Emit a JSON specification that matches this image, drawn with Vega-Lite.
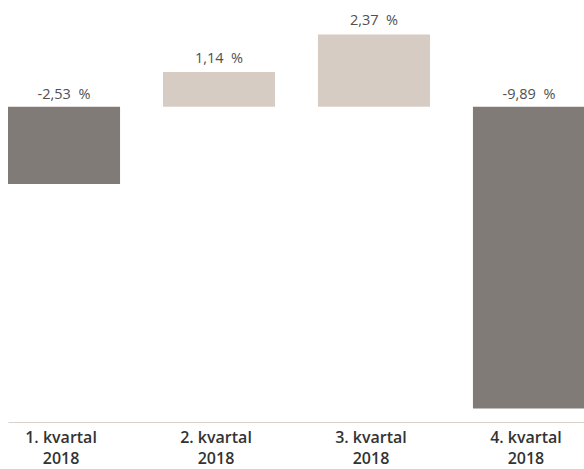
{
  "$schema": "https://vega.github.io/schema/vega-lite/v6.json",
  "width": 577,
  "height": 422,
  "autosize": {"type": "none"},
  "padding": {"left": 8, "top": 0, "right": 0, "bottom": 47},
  "background": "white",
  "config": {"view": {"stroke": null}},
  "data": {
    "values": [
      {"quarter": "1. kvartal|2018", "value": -2.53, "label": "-2,53\u00a0\u00a0%"},
      {"quarter": "2. kvartal|2018", "value": 1.14, "label": "1,14\u00a0\u00a0%"},
      {"quarter": "3. kvartal|2018", "value": 2.37, "label": "2,37\u00a0\u00a0%"},
      {"quarter": "4. kvartal|2018", "value": -9.89, "label": "-9,89\u00a0\u00a0%"}
    ]
  },
  "encoding": {
    "x": {
      "field": "quarter",
      "type": "nominal",
      "sort": null,
      "scale": {"paddingInner": 0.277, "paddingOuter": 0},
      "axis": {
        "title": null,
        "labelAngle": 0,
        "ticks": false,
        "grid": false,
        "domainColor": "#d9d1ca",
        "domainWidth": 1,
        "labelExpr": "split(datum.label, '|')",
        "labelFont": "Open Sans",
        "labelFontWeight": 600,
        "labelFontSize": 16,
        "labelColor": "#333333",
        "labelLineHeight": 21.5,
        "labelPadding": 7,
        "labelBaseline": "top",
        "labelOffset": -3
      }
    }
  },
  "layer": [
    {
      "mark": {"type": "bar"},
      "encoding": {
        "y": {
          "field": "value",
          "type": "quantitative",
          "scale": {"domain": [-10.33, 3.5], "nice": false, "zero": false},
          "axis": null
        },
        "color": {
          "condition": {"test": "datum.value < 0", "value": "#807b77"},
          "value": "#d7ccc3"
        }
      }
    },
    {
      "transform": [{"filter": "datum.value >= 0"}],
      "mark": {"type": "text", "font": "Open Sans", "fontSize": 14.5, "color": "#505050", "baseline": "alphabetic", "dy": -9},
      "encoding": {
        "y": {"field": "value", "type": "quantitative"},
        "text": {"field": "label"}
      }
    },
    {
      "transform": [{"filter": "datum.value < 0"}],
      "mark": {"type": "text", "font": "Open Sans", "fontSize": 14.5, "color": "#505050", "baseline": "alphabetic", "dy": -8},
      "encoding": {
        "y": {"datum": 0, "type": "quantitative"},
        "text": {"field": "label"}
      }
    }
  ]
}
